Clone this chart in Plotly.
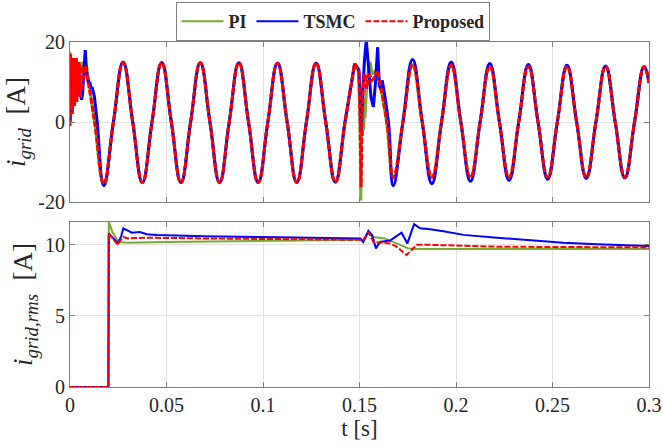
import plotly.graph_objects as go

# ---------------- colours / series names ----------------
series_names = ["PI", "TSMC", "Proposed"]
series_colors = ["#77AC30", "#0000FF", "#FF0000"]

# ---------------- grid current i_grid [A] ----------------
f_grid = 50.0                       # Hz
half_period = 0.5 / f_grid          # 0.01 s between extrema
first_extremum = 0.0175             # first trough after start-up
second_block_start = 0.1675         # first trough after the load step

# signed extremum values, one per half cycle (0.0175 ... 0.1475)
peaks_pre_PI = [-15.2, 14.8, -15.1, 14.8, -15.1, 14.8, -15.1, 14.8, -15.1, 14.7, -15.1, 14.7, -15.0, 14.6]
peaks_pre_TSMC = [-15.9, 15.0, -15.1, 14.9, -15.1, 14.8, -15.1, 14.8, -15.1, 14.7, -15.1, 14.7, -15.0, 14.6]
peaks_pre_Prop = [-15.3, 14.8, -15.1, 14.8, -15.1, 14.8, -15.1, 14.8, -15.1, 14.7, -15.1, 14.7, -15.0, 14.6]

# signed extremum values after the step (0.1675 ... 0.2975) and value at t = 0.3
peaks_post_PI = [-14.0, 14.2, -13.7, 14.0, -13.7, 13.8, -13.7, 13.8, -13.7, 13.8, -13.7, 13.8, -13.7, 13.8]
peaks_post_TSMC = [-15.9, 15.6, -15.4, 15.0, -14.8, 14.6, -14.6, 14.4, -14.3, 14.2, -14.1, 14.0, -14.0, 13.9]
peaks_post_Prop = [-13.8, 14.3, -13.8, 14.2, -13.8, 13.9, -13.8, 13.9, -13.8, 13.9, -13.8, 13.9, -13.8, 13.9]
end_value = {"PI": 9.7, "TSMC": 9.8, "Proposed": 9.8}

# start-up transients (t, i)
start_t_PI = [0.0, 0.0004, 0.0008, 0.0012, 0.0017, 0.0022, 0.0027, 0.0032, 0.0038, 0.0044, 0.0050,
              0.0056, 0.0062, 0.0068, 0.0074, 0.0080, 0.0085]
start_i_PI = [17.5, 9.0, 16.0, 8.0, 15.0, 12.0, 15.0, 13.0, 15.0, 12.5, 15.0, 13.0, 15.0, 13.5, 14.8,
              14.0, 14.2]
start_t_TSMC = [0.0, 0.0006, 0.0012, 0.0018, 0.0024, 0.0030, 0.0036, 0.0043, 0.0050, 0.0056, 0.0060, 0.0065,
                0.0069, 0.0074, 0.0079, 0.0086, 0.0092, 0.0097, 0.0103, 0.0109, 0.0114, 0.0119, 0.0126]
start_i_TSMC = [0.0, 4.0, 2.5, 7.0, 5.0, 9.0, 7.5, 6.5, 7.5, 6.0, 5.6, 7.0, 10.4, 14.0, 18.0, 12.6, 10.5, 9.3,
                10.0, 8.3, 8.8, 7.8, 6.5]
start_t_Prop = [0.0, 0.0003, 0.0006, 0.0009, 0.0012, 0.0015, 0.0018, 0.0021, 0.0024, 0.0027, 0.0030, 0.0033,
                0.0036, 0.0039, 0.0042, 0.0045, 0.0048, 0.0051, 0.0054, 0.0057, 0.0060, 0.0063, 0.0066,
                0.0069, 0.0072, 0.0075, 0.0080]
start_i_Prop = [-1.0, 17.0, 3.0, 16.0, 2.0, 15.0, 5.0, 16.0, 4.0, 15.0, 6.5, 16.0, 5.0, 14.5, 8.0, 15.0,
                7.0, 14.5, 6.2, 14.0, 8.0, 14.0, 9.0, 14.0, 11.0, 13.0, 14.0]

# lead-in from the start-up part to the first trough (t, i)
lead_t_PI = [0.0085, 0.0127]
lead_i_PI = [14.2, 0.0]
lead_t_TSMC = [0.0126, 0.0141]
lead_i_TSMC = [6.5, 0.0]
lead_t_Prop = [0.0080, 0.0128]
lead_i_Prop = [14.0, 0.0]

# load-step transients around t = 0.15 s (t, i)
step_t_PI = [0.1475, 0.1495, 0.1502, 0.1507, 0.1510, 0.1513, 0.1516, 0.1519, 0.1522, 0.1525, 0.1528, 0.1532,
             0.1537, 0.1545, 0.1555, 0.1565, 0.1575, 0.1585, 0.1595]
step_i_PI = [14.6, 13.0, 2.0, -19.6, -4.0, 3.0, -3.5, 5.0, -2.0, 6.0, 1.0, 6.5, 9.0, 12.5, 15.0, 12.0, 12.5,
             12.8, 12.4]
step_t_TSMC = [0.1475, 0.1497, 0.1504, 0.1508, 0.1515, 0.1525, 0.1535, 0.1545, 0.1560, 0.1572, 0.1583, 0.1594,
               0.1603, 0.1612, 0.1618]
step_i_TSMC = [14.6, 13.0, 6.0, -2.0, 5.0, 15.0, 20.5, 14.0, 6.0, 3.8, 10.0, 18.7, 9.0, 8.0, 10.4]
step_t_Prop = [0.1475, 0.1497, 0.1503, 0.1508, 0.1512, 0.1516, 0.1520, 0.1529, 0.1537, 0.1546, 0.1554, 0.1565,
               0.1575, 0.1585, 0.1594]
step_i_Prop = [14.6, 12.5, 0.0, -16.3, -3.0, 2.0, 10.4, 12.0, 8.3, 11.5, 11.7, 10.4, 11.0, 12.2, 12.6]

# lead-out from the step to the first post-step trough (t, i)
tail_t_PI = [0.1595, 0.1640]
tail_i_PI = [12.4, 0.0]
tail_t_TSMC = [0.1618, 0.1650]
tail_i_TSMC = [10.4, 0.0]
tail_t_Prop = [0.1594, 0.1642]
tail_i_Prop = [12.6, 0.0]

# ---------------- RMS grid current i_grid,rms [A] ----------------
rms_t_PI = [0.0, 0.0199, 0.0201, 0.0220, 0.0250, 0.0300, 0.0500, 0.1000, 0.1490, 0.1525, 0.1546, 0.1570,
            0.1630, 0.1692, 0.1753, 0.1790, 0.2500, 0.3000]
rms_v_PI = [0.0, 0.0, 11.6, 10.9, 10.2, 10.15, 10.2, 10.25, 10.33, 10.35, 10.85, 10.55, 10.45, 10.1, 9.75, 9.7,
            9.7, 9.7]
rms_t_TSMC = [0.0, 0.0199, 0.0201, 0.0220, 0.0248, 0.0265, 0.0276, 0.0300, 0.0320, 0.0363, 0.0397, 0.0450,
              0.0700, 0.0985, 0.1200, 0.1490, 0.1505, 0.1519, 0.1546, 0.1565, 0.1585, 0.1606, 0.1658, 0.1690,
              0.1718, 0.1748, 0.1783, 0.1814, 0.1865, 0.1935, 0.2039, 0.2211, 0.2383, 0.2556, 0.2729, 0.2988,
              0.3000]
rms_v_TSMC = [0.0, 0.0, 10.8, 10.5, 10.12, 10.6, 11.15, 11.0, 10.85, 10.9, 10.75, 10.7, 10.6, 10.55, 10.5, 10.45,
              10.45, 10.2, 10.99, 10.7, 9.75, 10.2, 10.3, 10.6, 10.85, 10.1, 11.46, 11.16, 11.1, 10.95, 10.7,
              10.5, 10.3, 10.15, 10.05, 9.92, 9.92]
rms_t_Prop = [0.0, 0.0199, 0.0201, 0.0225, 0.0248, 0.0260, 0.0276, 0.0300, 0.0400, 0.0700, 0.1000, 0.1490,
              0.1520, 0.1546, 0.1572, 0.1658, 0.1692, 0.1744, 0.1770, 0.1796, 0.1865, 0.2211, 0.2500, 0.3000]
rms_v_Prop = [0.0, 0.0, 10.8, 10.4, 10.0, 10.3, 10.55, 10.45, 10.5, 10.45, 10.4, 10.35, 10.35, 10.9, 10.2, 10.1,
              9.87, 9.28, 9.68, 10.0, 10.0, 9.87, 9.85, 9.82]

# ---------------- axis ticks ----------------
t_ticks = [0, 0.05, 0.1, 0.15, 0.2, 0.25, 0.3]
t_tick_text = ["0", "0.05", "0.1", "0.15", "0.2", "0.25", "0.3"]
i_ticks = [-20, 0, 20]
i_tick_text = ["-20", "0", "20"]
rms_ticks = [0, 5, 10]
rms_tick_text = ["0", "5", "10"]


def steady_wave(t0, peaks):
    """Extrema every half period with zero crossings in between."""
    ts, vs = [], []
    for k, p in enumerate(peaks):
        te = t0 + k * half_period
        ts.append(te)
        vs.append(p)
        ts.append(te + half_period / 2)
        vs.append(0.0)
    return ts, vs


fig = go.Figure()

wave_data = {
    "PI": (start_t_PI, start_i_PI, lead_t_PI, lead_i_PI, peaks_pre_PI, step_t_PI, step_i_PI,
           tail_t_PI, tail_i_PI, peaks_post_PI),
    "TSMC": (start_t_TSMC, start_i_TSMC, lead_t_TSMC, lead_i_TSMC, peaks_pre_TSMC, step_t_TSMC, step_i_TSMC,
             tail_t_TSMC, tail_i_TSMC, peaks_post_TSMC),
    "Proposed": (start_t_Prop, start_i_Prop, lead_t_Prop, lead_i_Prop, peaks_pre_Prop, step_t_Prop, step_i_Prop,
                 tail_t_Prop, tail_i_Prop, peaks_post_Prop),
}
rms_data = {
    "PI": (rms_t_PI, rms_v_PI),
    "TSMC": (rms_t_TSMC, rms_v_TSMC),
    "Proposed": (rms_t_Prop, rms_v_Prop),
}

dash_style = {"PI": "solid", "TSMC": "solid", "Proposed": "6px,2px"}

for name, color in zip(series_names, series_colors):
    (st_t, st_i, ld_t, ld_i, pk_pre, sp_t, sp_i, tl_t, tl_i, pk_post) = wave_data[name]
    dash = dash_style[name]
    line_lin = dict(color=color, width=3, dash=dash)
    line_spl = dict(color=color, width=3, dash=dash, shape="spline", smoothing=1.3)

    # start-up ripple
    fig.add_trace(go.Scatter(x=st_t, y=st_i, mode="lines", line=line_lin, name=name,
                             legendgroup=name, showlegend=False, xaxis="x", yaxis="y"))
    # steady operation before the step
    wt, wv = steady_wave(first_extremum, pk_pre)
    seg_t = ld_t + wt[:-1]
    seg_v = ld_i + wv[:-1]
    fig.add_trace(go.Scatter(x=seg_t, y=seg_v, mode="lines", line=line_spl, legendgroup=name,
                             showlegend=False, xaxis="x", yaxis="y"))
    # load step
    fig.add_trace(go.Scatter(x=sp_t, y=sp_i, mode="lines", line=line_lin, legendgroup=name,
                             showlegend=False, xaxis="x", yaxis="y"))
    # steady operation after the step
    wt2, wv2 = steady_wave(second_block_start, pk_post)
    seg_t2 = tl_t + wt2[:-1] + [0.3]
    seg_v2 = tl_i + wv2[:-1] + [end_value[name]]
    fig.add_trace(go.Scatter(x=seg_t2, y=seg_v2, mode="lines", line=line_spl, legendgroup=name,
                             showlegend=False, xaxis="x", yaxis="y"))

    # RMS value (this trace also carries the legend entry)
    rt, rv = rms_data[name]
    fig.add_trace(go.Scatter(x=rt, y=rv, mode="lines", line=dict(color=color, width=2, dash=dash),
                             name=name, legendgroup=name, showlegend=True, xaxis="x2", yaxis="y2"))

serif = "Liberation Serif, Times New Roman, Times, DejaVu Serif, serif"
ink = "#262626"
axis_common = dict(
    showline=True, linecolor="#808080", linewidth=1, mirror="ticks",
    ticks="inside", ticklen=5, tickcolor="#808080",
    showgrid=True, gridcolor="#e4e4e4", gridwidth=1, zeroline=False,
    tickfont=dict(family=serif, size=20, color=ink),
)

title_font = dict(family=serif, size=27, color=ink)

fig.update_layout(
    width=663, height=445,
    margin=dict(l=70, r=14, t=42, b=58, autoexpand=False),
    paper_bgcolor="white", plot_bgcolor="white",
    font=dict(family=serif, color=ink),
    xaxis=dict(axis_common, domain=[0, 1], range=[0, 0.3], tickvals=t_ticks, ticktext=t_tick_text,
               showticklabels=False, anchor="y"),
    yaxis=dict(axis_common, domain=[0.536, 1], range=[-20, 20], tickvals=i_ticks, ticktext=i_tick_text,
               anchor="x",
               title=dict(text="<i>i</i><sub><i>grid</i></sub>&nbsp; [A]", font=title_font, standoff=4)),
    xaxis2=dict(axis_common, domain=[0, 1], range=[0, 0.3], tickvals=t_ticks, ticktext=t_tick_text,
                anchor="y2",
                title=dict(text="t [s]", font=dict(family=serif, size=23, color=ink), standoff=2)),
    yaxis2=dict(axis_common, domain=[0, 0.478], range=[0, 11.6], tickvals=rms_ticks, ticktext=rms_tick_text,
                anchor="x2",
                title=dict(text="<i>i</i><sub><i>grid,rms</i></sub>&nbsp; [A]", font=title_font, standoff=4)),
    legend=dict(orientation="h", x=0.455, xanchor="center",
                yref="container", y=1 - 2 / 445, yanchor="top",
                bordercolor="#808080", borderwidth=1, bgcolor="white",
                font=dict(family=serif, size=18, color=ink, weight="bold"),
                itemwidth=42, tracegroupgap=0),
    showlegend=True,
)

fig.write_html("out.html")
